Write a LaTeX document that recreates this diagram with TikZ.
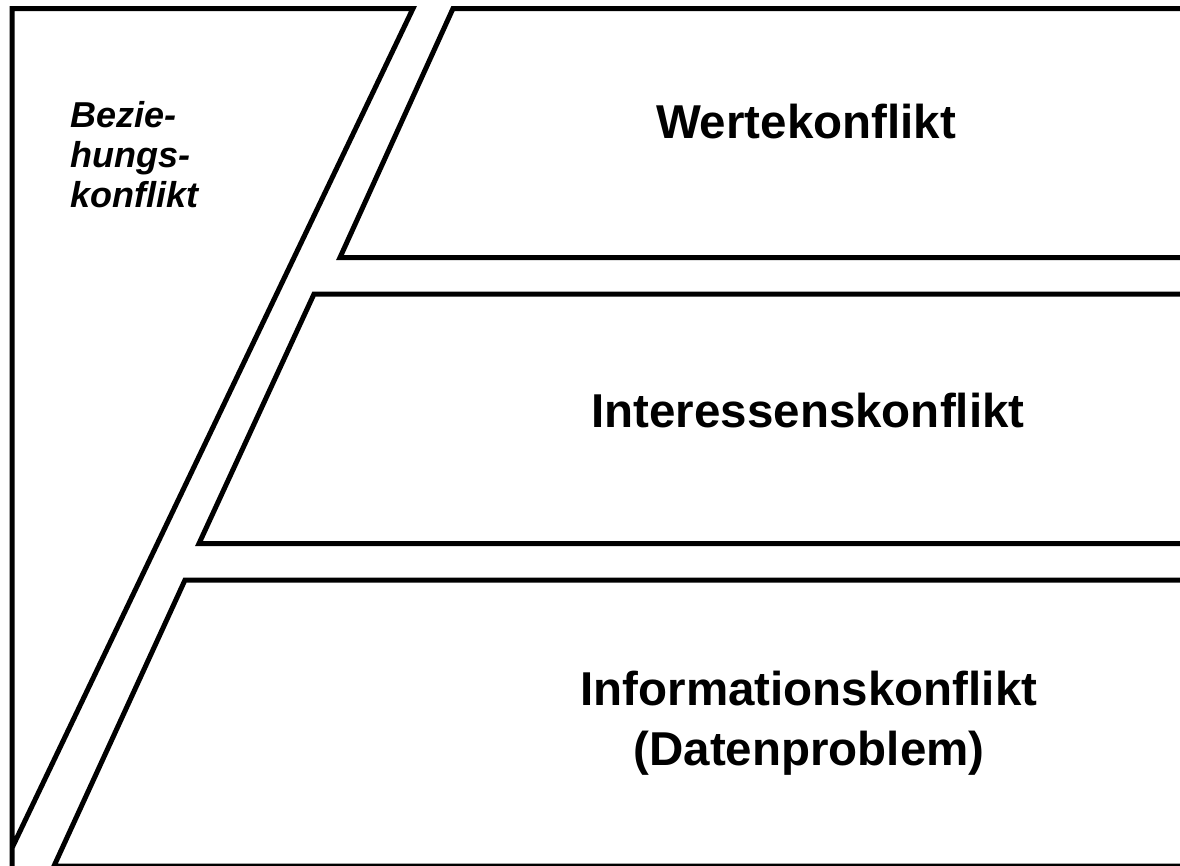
\documentclass[tikz,border=0pt]{standalone}
\usepackage{fontspec}
\setmainfont{Liberation Sans}
\usetikzlibrary{positioning}

\begin{document}
\begin{tikzpicture}[x=1pt, y=-1pt,
		layer/.style={draw, line width=5pt, line join=miter},
		bigtext/.style={font=\bfseries\fontsize{47.5}{60}\selectfont, align=center, inner sep=0pt},
		sidetext/.style={font=\bfseries\itshape\fontsize{36}{40}\selectfont, align=left, inner sep=0pt}]
	\useasboundingbox (0,0) rectangle (1180,865);
	\clip (0,0) rectangle (1180,865);
	% linke Seite
	\draw[layer] (12,880) -- (12,8.5) -- (413,8.5) -- (12,848);
	% drei Ebenen
	\draw[layer] (1190,8.5) -- (453,8.5) -- (340,257.5) -- (1190,257.5);
	\draw[layer] (1190,294) -- (314,294) -- (199,543.5) -- (1190,543.5);
	\draw[layer] (1190,580) -- (185,580) -- (54,866) -- (1190,866);
	\node[sidetext, anchor=base west] (bez) at (70,207) {Bezie-\\hungs-\\konflikt};
	\node[bigtext, anchor=base] (wert) at (806,138) {Wertekonflikt};
	\node[bigtext, anchor=base] (inter) at (808,427) {Interessenskonflikt};
	\node[bigtext, anchor=base] (info) at (809,765) {Informationskonflikt\\(Datenproblem)};
\end{tikzpicture}
\end{document}
